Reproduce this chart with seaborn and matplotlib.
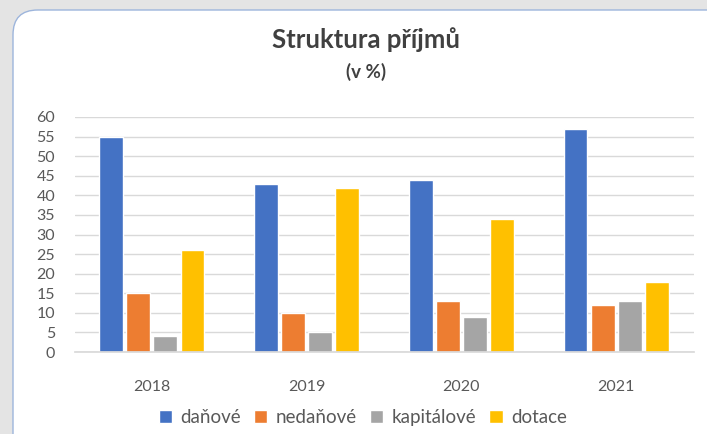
import matplotlib
matplotlib.use("Agg")
import matplotlib.pyplot as plt
from matplotlib.patches import FancyBboxPatch, Rectangle
import seaborn as sns
import pandas as pd

years = ["2018", "2019", "2020", "2021"]
series = ["daňové", "nedaňové", "kapitálové", "dotace"]
danove = [55, 43, 44, 57]
nedanove = [15, 10, 13, 12]
kapitalove = [4, 5, 9, 13]
dotace = [26, 42, 34, 18]
colors = ["#4472C4", "#ED7D31", "#A5A5A5", "#FFC000"]

rows = []
for name, vals in zip(series, [danove, nedanove, kapitalove, dotace]):
    for y, v in zip(years, vals):
        rows.append({"rok": y, "typ": name, "hodnota": v})
df = pd.DataFrame(rows)

sns.set_theme(style="white")
plt.rcParams["font.family"] = ["Lato", "DejaVu Sans"]

W, H = 707, 434
fig = plt.figure(figsize=(W / 100, H / 100), dpi=100)
fig.patch.set_facecolor("white")

# background frame / card
fig.patches.append(Rectangle((0, 0), 1, 1, transform=fig.transFigure,
                             facecolor="#e4e4e4", edgecolor="none", zorder=-3))
fig.patches.append(FancyBboxPatch((13 / W, -0.2), 1.2, (H - 10) / H + 0.2,
                                  boxstyle="round,pad=0,rounding_size=0.035",
                                  transform=fig.transFigure, facecolor="white",
                                  edgecolor="#9db5dc", linewidth=1.0,
                                  mutation_aspect=W / H, zorder=-2))

ax = fig.add_axes([74.5 / W, 1 - 352 / H, (693.5 - 74.5) / W, (352 - 117) / H])
ax.set_facecolor("none")
sns.barplot(data=df, x="rok", y="hodnota", hue="typ", palette=colors,
            width=0.7, gap=0.12, ax=ax, saturation=1, legend=True)

ax.set_ylim(0, 60)
ax.set_xlim(-0.5, 3.5)
ax.set_yticks(range(0, 61, 5))
ax.yaxis.grid(True, color="#d9d9d9", linewidth=1.0)
ax.set_axisbelow(True)
for s in ["top", "right", "left"]:
    ax.spines[s].set_visible(False)
ax.spines["bottom"].set_color("#d9d9d9")
ax.set_xlabel("")
ax.set_ylabel("")
ax.tick_params(axis="y", colors="#595959", labelsize=11.5, length=0, pad=14)
ax.tick_params(axis="x", colors="#595959", labelsize=11.5, length=0, pad=20)

leg = ax.legend(loc="upper center", bbox_to_anchor=(0.466, -0.17), ncol=4,
                frameon=False, fontsize=13.5, handlelength=0.7, handleheight=0.7,
                handletextpad=0.45, columnspacing=0.7)
for t in leg.get_texts():
    t.set_color("#595959")

fig.text(0.518, 1 - 40 / H, "Struktura příjmů", ha="center", va="center",
         fontsize=18.5, fontweight="bold", color="#404040")
fig.text(0.518, 1 - 72 / H, "(v %)", ha="center", va="center",
         fontsize=13.5, fontweight="bold", color="#404040")

fig.savefig("out.png", dpi=100)
